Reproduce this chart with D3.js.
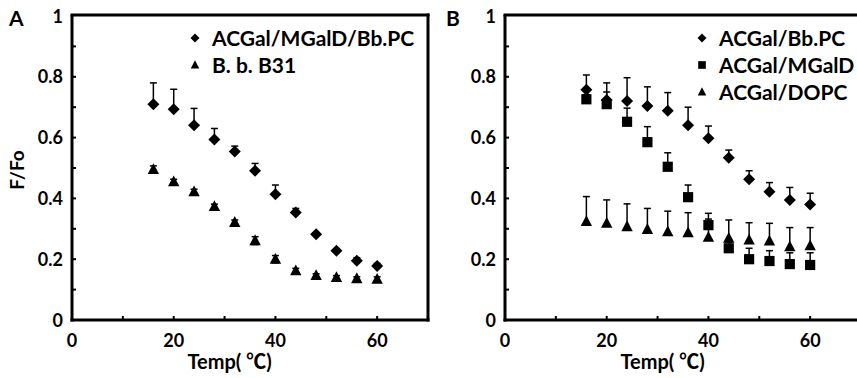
<!DOCTYPE html>
<html>
<head>
<meta charset="utf-8">
<script src="https://cdn.jsdelivr.net/npm/d3@7"></script>
<style>
  html, body { margin: 0; padding: 0; background: #fff; }
  svg { display: block; }
  text { font-family: Lato, "Open Sans", sans-serif; fill: #000; }
</style>
</head>
<body>
<svg id="chart" width="857" height="378"></svg>
<script>
// ---------- data ----------
const temps = [16, 20, 24, 28, 32, 36, 40, 44, 48, 52, 56, 60];

// Panel A
const aMixVals = [0.710, 0.693, 0.641, 0.594, 0.554, 0.491, 0.414, 0.354, 0.282, 0.228, 0.195, 0.178];
const aMixErr  = [0.070, 0.066, 0.055, 0.036, 0.018, 0.024, 0.030, 0.013, 0.005, 0.006, 0.010, 0.008];
const aB31Vals = [0.495, 0.455, 0.422, 0.373, 0.321, 0.261, 0.200, 0.162, 0.146, 0.140, 0.136, 0.134];
const aB31Err  = [0.012, 0.008, 0.008, 0.008, 0.008, 0.013, 0.012, 0.008, 0.006, 0.006, 0.006, 0.008];

// Panel B
const bBbPCVals  = [0.757, 0.724, 0.720, 0.704, 0.688, 0.641, 0.598, 0.534, 0.463, 0.422, 0.395, 0.380];
const bBbPCErr   = [0.049, 0.056, 0.077, 0.063, 0.060, 0.059, 0.040, 0.025, 0.028, 0.030, 0.041, 0.037];
const bMGalDVals = [0.726, 0.710, 0.652, 0.585, 0.504, 0.404, 0.312, 0.236, 0.200, 0.194, 0.184, 0.181];
const bMGalDErr  = [0.015, 0.040, 0.045, 0.051, 0.046, 0.040, 0.039, 0.020, 0.036, 0.034, 0.037, 0.040];
const bDOPCVals  = [0.324, 0.318, 0.307, 0.298, 0.290, 0.287, 0.272, 0.269, 0.263, 0.260, 0.241, 0.244];
const bDOPCErr   = [0.082, 0.077, 0.075, 0.069, 0.068, 0.066, 0.060, 0.060, 0.057, 0.058, 0.063, 0.060];

const xTickLabels = [0, 20, 40, 60];
const yTickLabels = [0, 0.2, 0.4, 0.6, 0.8, 1];
const xMinorTicks = [10, 20, 30, 40, 50, 60];
const yMinorTicks = [0.1, 0.2, 0.3, 0.4, 0.5, 0.6, 0.7, 0.8, 0.9];

const panelA = {
  letter: "A", letterX: 9, left: 72, right: 428, boxRight: true,
  series: [
    { name: "ACGal/MGalD/Bb.PC", shape: "diamond", vals: aMixVals, err: aMixErr, sym: false },
    { name: "B. b. B31", shape: "triangle", vals: aB31Vals, err: aB31Err, sym: true }
  ],
  legendX: 195, legendY: 38, legendTextX: 212
};
const panelB = {
  letter: "B", letterX: 446, left: 505, right: 861, boxRight: false,
  series: [
    { name: "ACGal/Bb.PC", shape: "diamond", vals: bBbPCVals, err: bBbPCErr },
    { name: "ACGal/MGalD", shape: "square", vals: bMGalDVals, err: bMGalDErr },
    { name: "ACGal/DOPC", shape: "triangle", vals: bDOPCVals, err: bDOPCErr }
  ],
  legendX: 702, legendY: 38, legendTextX: 719
};

// ---------- drawing ----------
const svg = d3.select("#chart");
svg.append("rect").attr("width", 857).attr("height", 378).attr("fill", "#fff");

const TOP = 16, BOTTOM = 320;

function shapePath(shape, s) {
  if (shape === "diamond") {
    return `M0,${-s}L${s},0L0,${s}L${-s},0Z`;
  } else if (shape === "square") {
    const h = s * 0.85;
    return `M${-h},${-h}L${h},${-h}L${h},${h}L${-h},${h}Z`;
  } else {
    const w = s * 0.95;
    return `M0,${-s * 1.05}L${w},${s * 0.75}L${-w},${s * 0.75}Z`;
  }
}

function drawPanel(p) {
  const x = d3.scaleLinear().domain([0, 70]).range([p.left, p.right]);
  const y = d3.scaleLinear().domain([0, 1]).range([BOTTOM, TOP]);
  const g = svg.append("g");

  // inner ticks
  g.selectAll(".xt").data(xMinorTicks).enter().append("line")
    .attr("x1", d => x(d)).attr("x2", d => x(d))
    .attr("y1", BOTTOM).attr("y2", BOTTOM - 4)
    .attr("stroke", "#000").attr("stroke-width", 2);
  g.selectAll(".yt").data(yMinorTicks).enter().append("line")
    .attr("x1", p.left).attr("x2", p.left + 4)
    .attr("y1", d => y(d)).attr("y2", d => y(d))
    .attr("stroke", "#000").attr("stroke-width", 2);

  // frame
  const fr = g.append("g").attr("fill", "none").attr("stroke", "#000").attr("stroke-width", 3);
  fr.append("line").attr("x1", p.left).attr("x2", p.left).attr("y1", y(1) - 1).attr("y2", BOTTOM + 1.5);
  fr.append("line").attr("x1", p.left - 1.5).attr("x2", Math.min(p.right + 1.5, 860)).attr("y1", BOTTOM).attr("y2", BOTTOM);
  fr.append("line").attr("x1", p.left - 1.5).attr("x2", Math.min(p.right + 1.5, 860)).attr("y1", y(1) - 1).attr("y2", y(1) - 1);
  if (p.boxRight) {
    fr.append("line").attr("x1", p.right).attr("x2", p.right).attr("y1", y(1) - 2.5).attr("y2", BOTTOM + 1.5);
  }

  // tick labels
  g.selectAll(".xl").data(xTickLabels).enter().append("text")
    .attr("x", d => x(d)).attr("y", 347)
    .attr("text-anchor", "middle").attr("font-size", 18).attr("font-weight", "bold")
    .text(d => d);
  g.selectAll(".yl").data(yTickLabels).enter().append("text")
    .attr("x", p.left - 9).attr("y", d => y(d) + 6.5)
    .attr("text-anchor", "end").attr("font-size", 18).attr("font-weight", "bold")
    .text(d => d);

  // axis title
  const tt = g.append("text").attr("x", x(31)).attr("y", 369)
    .attr("text-anchor", "middle").attr("font-size", 20).attr("font-weight", "bold");
  tt.append("tspan").text("Temp(");
  tt.append("tspan").attr("dx", 5)
    .attr("font-family", "'Noto Sans CJK SC', 'Noto Sans CJK JP', sans-serif").text("℃");
  tt.append("tspan").text(")");

  // panel letter
  g.append("text").attr("x", p.letterX).attr("y", 26)
    .attr("font-size", 21).attr("font-weight", "bold").text(p.letter);

  // series
  p.series.forEach(s => {
    const sg = g.append("g");
    const pts = temps.map((t, i) => ({ t, v: s.vals[i], e: s.err[i] }));
    sg.selectAll("line.eb").data(pts).enter().append("line")
      .attr("x1", d => x(d.t)).attr("x2", d => x(d.t))
      .attr("y1", d => s.sym ? y(d.v - d.e) : y(d.v)).attr("y2", d => y(d.v + d.e))
      .attr("stroke", "#000").attr("stroke-width", 1.5);
    sg.selectAll("line.cap").data(pts).enter().append("line")
      .attr("x1", d => x(d.t) - 3.5).attr("x2", d => x(d.t) + 3.5)
      .attr("y1", d => y(d.v + d.e)).attr("y2", d => y(d.v + d.e))
      .attr("stroke", "#000").attr("stroke-width", 1.5);
    if (s.sym) {
      sg.selectAll("line.cap2").data(pts).enter().append("line")
        .attr("x1", d => x(d.t) - 3.5).attr("x2", d => x(d.t) + 3.5)
        .attr("y1", d => y(d.v - d.e)).attr("y2", d => y(d.v - d.e))
        .attr("stroke", "#000").attr("stroke-width", 1.5);
    }
    sg.selectAll("path.m").data(pts).enter().append("path")
      .attr("transform", d => `translate(${x(d.t)},${y(d.v)})`)
      .attr("d", shapePath(s.shape, 6))
      .attr("fill", "#000");
  });

  // legend
  p.series.forEach((s, i) => {
    const ly = p.legendY + i * 27;
    g.append("path").attr("transform", `translate(${p.legendX},${ly})`)
      .attr("d", shapePath(s.shape, 4.5)).attr("fill", "#000");
    g.append("text").attr("x", p.legendTextX).attr("y", ly + 7.5)
      .attr("font-size", 21).attr("font-weight", "bold").text(s.name);
  });
}

drawPanel(panelA);
drawPanel(panelB);

// y axis title
svg.append("text")
  .attr("transform", `translate(24,170) rotate(-90)`)
  .attr("text-anchor", "middle").attr("font-size", 19).attr("font-weight", "bold")
  .text("F/Fo");
</script>
</body>
</html>
